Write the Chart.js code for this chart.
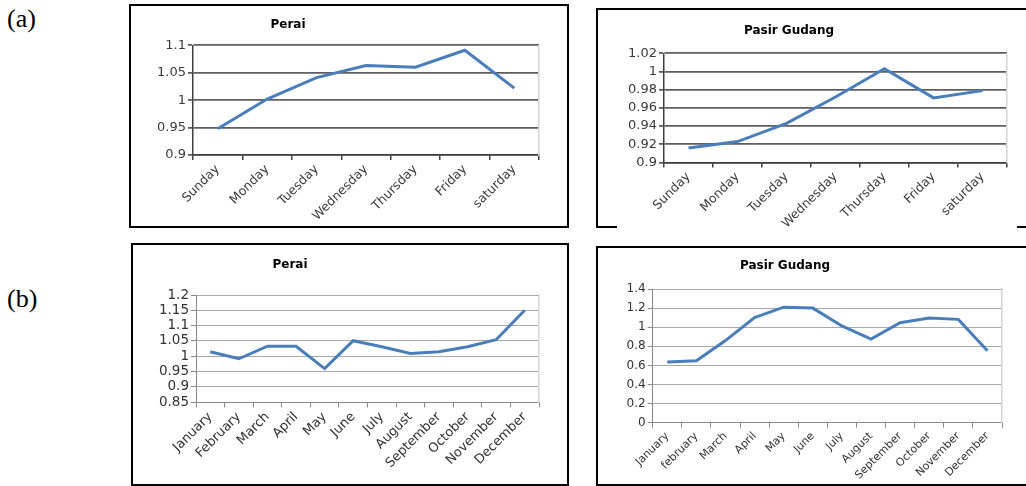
<!DOCTYPE html>
<html>
<head>
<meta charset="utf-8">
<script src="https://cdn.jsdelivr.net/npm/chart.js@4/dist/chart.umd.min.js"></script>
<style>
  html, body { margin: 0; padding: 0; background: #fff; }
  #page { position: relative; width: 1026px; height: 486px; overflow: hidden; background: #fff; }
  .frame { position: absolute; box-sizing: border-box; border: 2px solid #000; }
  .seg { position: absolute; height: 2px; background: #000; }
  .panel { position: absolute; font-family: "Liberation Serif", "DejaVu Serif", serif; font-size: 26px; line-height: 1; color: #000; }
  canvas { position: absolute; }
</style>
</head>
<body>
<div id="page">
  <div class="panel" style="left:7px;top:6px">(a)</div>
  <div class="panel" style="left:7px;top:286px">(b)</div>

  <div class="frame" style="left:129px;top:4px;width:440px;height:224px"></div>
  <div class="frame" style="left:596px;top:8px;width:460px;height:220px;border-bottom:none"></div>
  <div class="seg" style="left:596px;top:226px;width:21px"></div>
  <div class="seg" style="left:1017px;top:226px;width:12px"></div>
  <div class="frame" style="left:131px;top:243px;width:438px;height:243px"></div>
  <div class="frame" style="left:596px;top:246px;width:460px;height:240px"></div>

  <canvas id="peraiDay" width="504" height="218" style="left:37px;top:8px"></canvas>
  <canvas id="pasirDay" width="438" height="222" style="left:571px;top:12px"></canvas>
  <canvas id="peraiMonth" width="500" height="236" style="left:41px;top:246px"></canvas>
  <canvas id="pasirMonth" width="436" height="232" style="left:568px;top:250px"></canvas>
</div>

<script>
// Categories
const days = ['Sunday', 'Monday', 'Tuesday', 'Wednesday', 'Thursday', 'Friday', 'saturday'];
const monthsPerai = ['January', 'February', 'March', 'April', 'May', 'June', 'July',
  'August', 'September', 'October', 'November', 'December'];
const monthsPasir = ['January', 'february', 'March', 'April', 'May', 'June', 'July',
  'August', 'September', 'October', 'November', 'December'];

// Series values
const peraiDaily = [0.948, 1.002, 1.041, 1.063, 1.060, 1.091, 1.022];
const pasirDaily = [0.916, 0.923, 0.943, 0.972, 1.003, 0.971, 0.979];
const peraiMonthly = [1.015, 0.992, 1.033, 1.033, 0.960, 1.051, 1.031, 1.009, 1.015, 1.031, 1.054, 1.150];
const pasirMonthly = [0.635, 0.649, 0.860, 1.100, 1.210, 1.200, 1.013, 0.876, 1.047, 1.096, 1.082, 0.754];

// Value-axis tick labels
const peraiDayTicks = ['0.9', '0.95', '1', '1.05', '1.1'];
const pasirDayTicks = ['0.9', '0.92', '0.94', '0.96', '0.98', '1', '1.02'];
const peraiMonthTicks = ['0.85', '0.9', '0.95', '1', '1.05', '1.1', '1.15', '1.2'];
const pasirMonthTicks = ['0', '0.2', '0.4', '0.6', '0.8', '1', '1.2', '1.4'];

const LINE_BLUE = '#4a7ebb';
const FONT = "'DejaVu Sans', Verdana, sans-serif";

const darkStyle = {
  gridColor: '#5e5e5e', gridWidth: 1.8,
  axisColor: '#404040', axisWidth: 1.5,
  edgeColor: '#d4d4d4', labelColor: '#3a3a3a'
};
const lightStyle = {
  gridColor: '#a9a9a9', gridWidth: 1,
  axisColor: '#8a8a8a', axisWidth: 1,
  edgeColor: '#d4d4d4', labelColor: '#333333'
};

function lineChart(id, title, labels, values, tickLabels, s) {
  const tickValues = tickLabels.map(Number);
  return new Chart(document.getElementById(id), {
    type: 'line',
    data: {
      labels: labels,
      datasets: [{
        data: values,
        borderColor: LINE_BLUE,
        borderWidth: 3,
        pointRadius: 0,
        tension: 0,
        fill: false
      }]
    },
    options: {
      responsive: false,
      animation: false,
      devicePixelRatio: 1,
      layout: { padding: { left: 0, right: 2, top: 0, bottom: 0 } },
      plugins: {
        legend: { display: false },
        tooltip: { enabled: false },
        title: {
          display: true,
          text: title,
          color: '#000',
          font: { family: FONT, weight: 'bold', size: 12 },
          padding: { top: s.titleTop, bottom: s.titleBottom }
        }
      },
      scales: {
        x: {
          type: 'category',
          offset: true,
          grid: {
            offset: true, drawOnChartArea: false, drawTicks: true, tickLength: 5,
            color: s.axisColor, lineWidth: s.axisWidth
          },
          border: { color: s.axisColor, width: s.axisWidth },
          ticks: {
            autoSkip: false, minRotation: 45, maxRotation: 45, padding: 2,
            color: s.labelColor, font: { family: FONT, size: s.xFont }
          },
          afterFit: a => { a.height = s.xHeight; }
        },
        y: {
          type: 'linear',
          min: tickValues[0],
          max: tickValues[tickValues.length - 1],
          afterBuildTicks: a => { a.ticks = tickValues.map(v => ({ value: v })); },
          ticks: {
            autoSkip: false,
            padding: 2,
            color: s.labelColor,
            font: { family: FONT, size: s.yFont },
            callback: (v, i) => tickLabels[i]
          },
          grid: {
            color: s.gridColor, lineWidth: s.gridWidth,
            drawTicks: true, tickLength: 5,
            tickColor: s.axisColor, tickWidth: s.axisWidth
          },
          border: { color: s.axisColor, width: s.axisWidth },
          afterFit: a => { a.width = s.yWidth; }
        },
        edge: {
          type: 'linear',
          position: 'right',
          display: true,
          ticks: { display: false },
          grid: { display: false, drawTicks: false },
          border: { display: true, color: s.edgeColor, width: 1.5 },
          afterFit: a => { a.width = 0; }
        }
      }
    }
  });
}

lineChart('peraiDay', 'Perai', days, peraiDaily, peraiDayTicks,
  Object.assign({}, darkStyle, { titleTop: 9.5, titleBottom: 13.4, xHeight: 71, yWidth: 156, xFont: 12.5, yFont: 13 }));
lineChart('pasirDay', 'Pasir Gudang', days, pasirDaily, pasirDayTicks,
  Object.assign({}, darkStyle, { titleTop: 11.5, titleBottom: 15.4, xHeight: 71.5, yWidth: 93, xFont: 12.5, yFont: 13 }));
lineChart('peraiMonth', 'Perai', monthsPerai, peraiMonthly, peraiMonthTicks,
  Object.assign({}, lightStyle, { titleTop: 11.5, titleBottom: 23.1, xHeight: 79.7, yWidth: 155, xFont: 13, yFont: 13.5 }));
lineChart('pasirMonth', 'Pasir Gudang', monthsPasir, pasirMonthly, pasirMonthTicks,
  Object.assign({}, lightStyle, { titleTop: 8.8, titleBottom: 15.8, xHeight: 59.3, yWidth: 84.7, xFont: 11, yFont: 12 }));
</script>
</body>
</html>
